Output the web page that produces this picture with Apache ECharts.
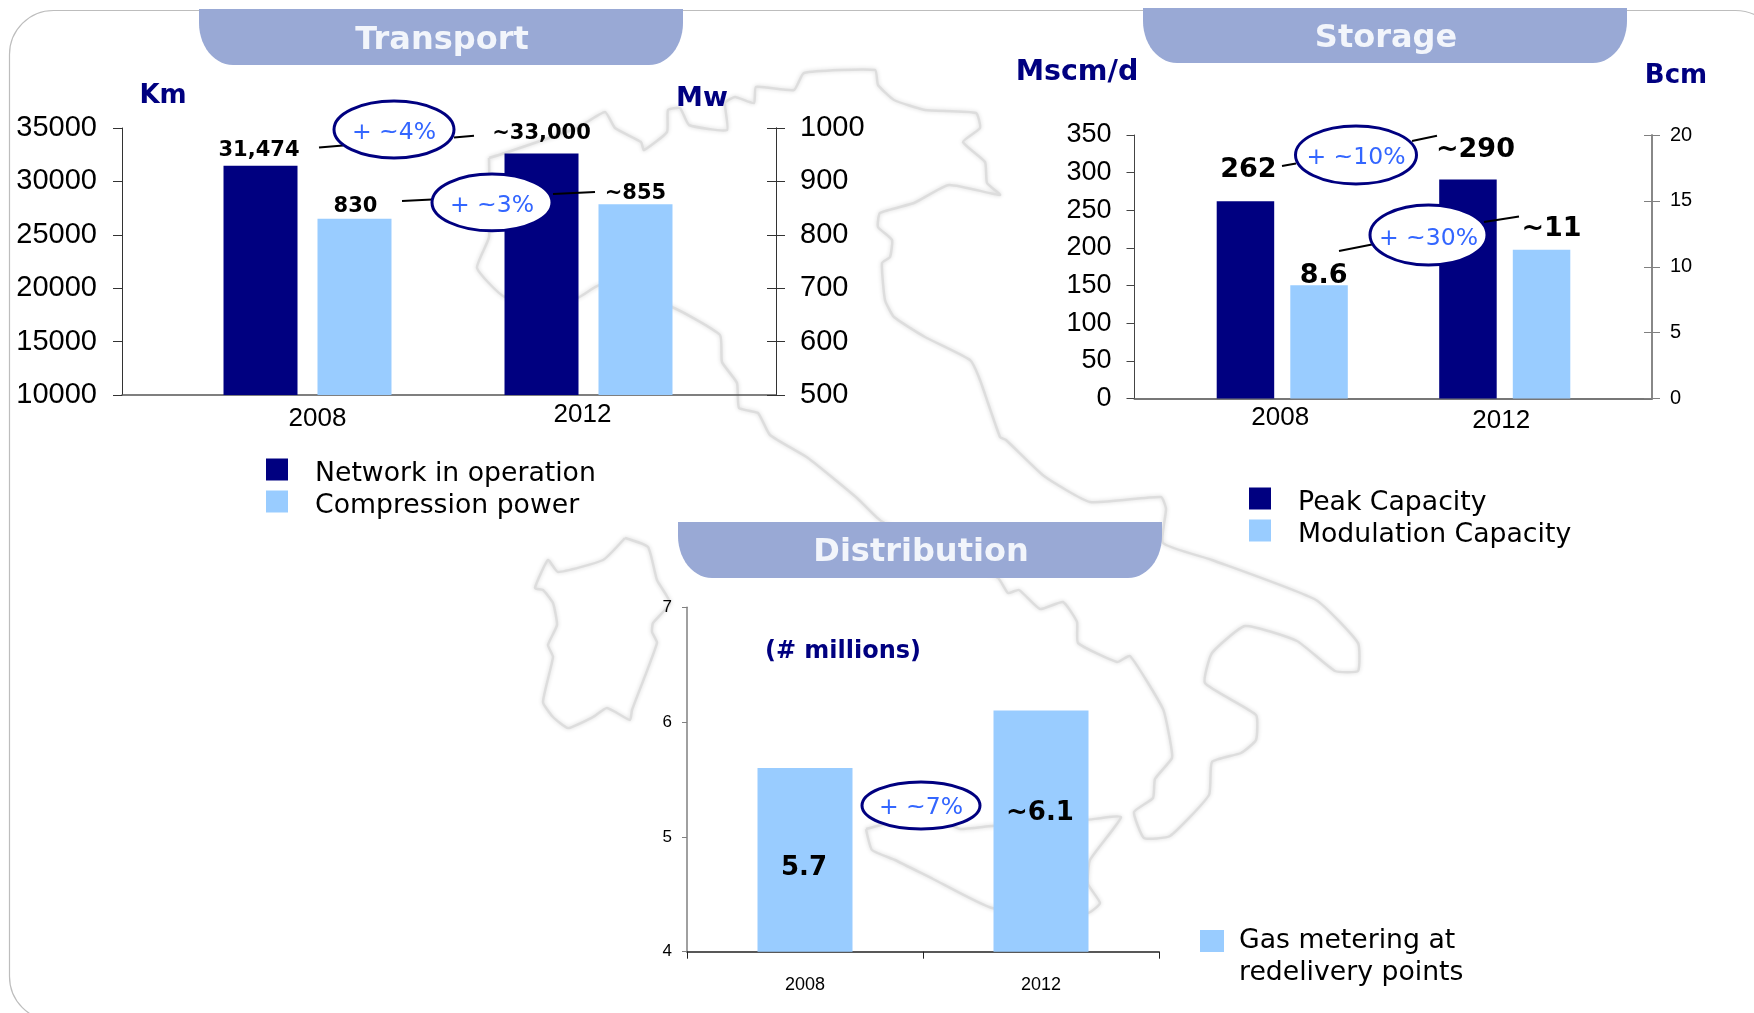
<!DOCTYPE html>
<html>
<head>
<meta charset="utf-8">
<title>Transport, Storage and Distribution</title>
<script src="https://cdn.jsdelivr.net/npm/echarts@6/dist/echarts.min.js"></script>
<style>html,body{margin:0;padding:0;background:#fff}#c{width:1754px;height:1013px}</style>
</head>
<body>
<div id="c"></div>
<script>
// ---- data ----
const years = ['2008', '2012'];
const networkKm = [31474, 32620];
const networkLabels = ['31,474', '~33,000'];
const compressionMw = [830, 857];
const compressionLabels = ['830', '~855'];
const peakCapacity = [262, 291];
const peakLabels = ['262', '~290'];
const modulationCapacity = [8.6, 11.3];
const modulationLabels = ['8.6', '~11'];
const gasMetering = [5.6, 6.1];
const gasLabels = ['5.7', '~6.1'];

// ---- styles ----
const NAVY = '#000080', LIGHT = '#99CCFF', PILL = '#99A9D5', BLUE = '#3366FF';
const SANS = '"Liberation Sans", Arial, sans-serif', VERD = '"DejaVu Sans", sans-serif';

function labelled(vals, texts, offsets, font) {
  return vals.map((v, i) => ({
    value: v,
    label: { show: true, formatter: texts[i], offset: offsets[i], position: font.pos || 'top', distance: 0,
             fontFamily: VERD, fontWeight: 'bold', fontSize: font.size, color: '#000' }
  }));
}
function valueAxis(grid, pos, min, max, step, o) {
  return {
    type: 'value', gridIndex: grid, position: pos, min: min, max: max, interval: step, splitLine: { show: false },
    axisLine: { show: true, onZero: false, lineStyle: { color: o.color, width: o.width } },
    axisTick: { show: o.tick > 0, length: o.tick, inside: !!o.inside, lineStyle: { color: o.color, width: 1 } },
    axisLabel: { show: !!o.size, margin: o.margin, fontFamily: SANS, fontSize: o.size, color: '#000', formatter: v => String(v) }
  };
}
function hiddenY(grid, pos, min, max) {
  return { type: 'value', gridIndex: grid, position: pos, min: min, max: max, show: false, splitLine: { show: false } };
}
function frameX(grid, color, width) {
  return { type: 'value', gridIndex: grid, min: 0, max: 1, splitLine: { show: false }, axisTick: { show: false }, axisLabel: { show: false },
           axisLine: { show: true, onZero: false, lineStyle: { color: color, width: width } } };
}
function yearAxis(grid, shift, margin) {
  const rich = {};
  years.forEach((y, i) => { rich['y' + y] = { fontFamily: SANS, fontSize: 26, color: '#000', padding: shift[i] }; });
  return { type: 'category', gridIndex: grid, data: years, axisLine: { show: false }, axisTick: { show: false }, splitLine: { show: false },
           axisLabel: { interval: 0, margin: margin, formatter: v => '{y' + v + '|' + v + '}', rich: rich } };
}

// ---- Italy outline behind everything ----
const mainland = [[489,158],[505,153],[577,128],[605,112],[615,128],[641,142],[644,150],[667,132],[668,110],[680,108],[689,125],[727,130],[725,103],[735,97],[754,103],[756,87],[794,90],[804,73],[875,70],[878,85],[894,100],[925,110],[976,113],[980,128],[963,142],[985,162],[987,183],[1000,195],[949,185],[914,203],[880,213],[878,227],[892,240],[890,257],[882,263],[885,300],[894,317],[925,337],[970,360],[980,380],[1000,437],[1006,440],[1044,476],[1090,502],[1161,497],[1166,509],[1163,543],[1212,560],[1316,600],[1358,643],[1358,671],[1335,671],[1297,641],[1245,626],[1212,653],[1205,683],[1256,715],[1256,740],[1241,753],[1212,762],[1209,795],[1170,836],[1144,838],[1134,812],[1153,798],[1155,779],[1172,758],[1170,740],[1163,709],[1130,656],[1117,662],[1078,643],[1077,622],[1063,602],[1040,609],[1019,590],[1008,593],[998,578],[881,521],[857,498],[808,458],[770,435],[758,413],[739,408],[737,383],[722,362],[720,335],[672,307],[600,285],[577,298],[505,297],[477,268],[489,237]];
const sardinia = [[625,538],[648,547],[657,580],[670,603],[653,623],[652,632],[657,643],[632,710],[630,720],[607,708],[593,717],[568,728],[553,717],[543,702],[553,657],[548,645],[557,625],[553,603],[543,590],[535,588],[548,560],[558,572],[603,560]];
const sicily = [[866,829],[872,850],[895,860],[933,879],[992,908],[1088,913],[1100,903],[1088,884],[1090,860],[1121,817],[1086,820],[992,826],[960,829],[948,824],[895,822]];

function outline(pts) {
  return { type: 'polyline', z: 0, silent: true, shape: { points: pts.concat([pts[0]]), smooth: 0.15 },
           style: { fill: 'none', stroke: '#dddddd', lineWidth: 2.5, lineJoin: 'round', shadowBlur: 4, shadowColor: '#d8d8d8' } };
}
function pill(x0, x1, y0, y1) {
  const rx = 34, ry = 42, pts = [[x0, y0], [x1, y0]];
  for (let i = 0; i <= 14; i++) { const a = i / 14 * Math.PI / 2; pts.push([x1 - rx + rx * Math.cos(a), y1 - ry + ry * Math.sin(a)]); }
  for (let i = 0; i <= 14; i++) { const a = i / 14 * Math.PI / 2; pts.push([x0 + rx - rx * Math.sin(a), y1 - ry + ry * Math.cos(a)]); }
  return { type: 'polygon', z: 5, silent: true, shape: { points: pts }, style: { fill: PILL } };
}
function text(str, x, y, size, color, weight, z) {
  return { type: 'text', z: z || 12, silent: true, x: x, y: y,
           style: { text: str, x: 0, y: 0, align: 'center', verticalAlign: 'middle', fontFamily: VERD, fontSize: size, fontWeight: weight || 'bold', fill: color } };
}
function oval(cx, cy, rx, ry, label, ty) {
  return [
    { type: 'ellipse', z: 10, silent: true, shape: { cx: cx, cy: cy, rx: rx, ry: ry }, style: { fill: '#fff', stroke: NAVY, lineWidth: 3 } },
    text(label, cx, ty, 23.5, BLUE, 'normal')
  ];
}
function tie(x1, y1, x2, y2) {
  return { type: 'line', z: 9, silent: true, shape: { x1: x1, y1: y1, x2: x2, y2: y2 }, style: { stroke: '#000', lineWidth: 2 } };
}

const graphics = [
  { type: 'rect', z: 0, silent: true, shape: { x: 9.5, y: 10.5, width: 1770, height: 1010, r: 44 }, style: { fill: 'none', stroke: '#bdbdbd', lineWidth: 1.2 } },
  outline(mainland), outline(sardinia), outline(sicily),
  pill(199, 683, 9, 65), pill(1143, 1627, 8, 63), pill(678, 1162, 522, 578),
  text('Transport', 442, 41, 32, '#F2F5FB'), text('Storage', 1386, 39, 32, '#F2F5FB'), text('Distribution', 921, 553, 32, '#F2F5FB'),
  text('Km', 163, 96, 26, NAVY), text('Mw', 702, 99, 27, NAVY), text('Mscm/d', 1077, 73, 28.5, NAVY), text('Bcm', 1676, 76, 26, NAVY),
  text('(# millions)', 843, 652, 24, NAVY),
  tie(319, 147.6, 343, 145.6), tie(454, 137.5, 474, 135.8), tie(402, 201, 432, 199.6), tie(553, 194, 595, 192),
  tie(1282, 166, 1296, 163.6), tie(1412, 141, 1437, 135.7), tie(1339, 251, 1372, 244.6), tie(1484, 222, 1519, 216.4)
].concat(
  oval(394, 129.5, 60, 28.5, '+ ~4%', 133), oval(492, 202.4, 60, 28.4, '+ ~3%', 206),
  oval(1356, 155, 60.5, 29, '+ ~10%', 158), oval(1428.5, 235, 58.5, 30, '+ ~30%', 239),
  oval(921, 805.5, 59, 23.5, '+ ~7%', 808)
);

const LEFT_T = { color: '#333', width: 1, tick: 9, size: 29, margin: 25 };
const RIGHT_T = { color: '#333', width: 1, tick: 9, size: 29, margin: 24 };
const LEFT_S = { color: '#444', width: 1, tick: 8, size: 27, margin: 23 };
const RIGHT_S = { color: '#808080', width: 1.5, tick: 8, size: 20, margin: 18 };

const legendRich = { a: { fontFamily: VERD, fontSize: 26.7, lineHeight: 22, color: '#000', padding: [10, 0, 0, 22] } };
const option = {
  animation: false,
  backgroundColor: '#fff',
  graphic: { elements: graphics },
  legend: [
    { data: ['Network in operation', 'Compression power'], left: 266, top: 451, itemWidth: 22, itemHeight: 22, itemGap: -5, formatter: n => '{a|' + n + '}', textStyle: { rich: legendRich } },
    { data: ['Peak Capacity', 'Modulation Capacity'], left: 1249, top: 480, itemWidth: 22, itemHeight: 22, itemGap: -5, formatter: n => '{a|' + n + '}', textStyle: { rich: legendRich } },
    { data: ['Gas metering at\nredelivery points'], left: 1200, top: 893, itemWidth: 24, itemHeight: 22, itemGap: 0, formatter: n => '\n' + n,
      textStyle: { fontFamily: VERD, fontSize: 26.7, lineHeight: 32, color: '#000', padding: [0, 0, 0, 10] } }
  ].map(l => Object.assign({ orient: 'vertical', icon: 'rect', selectedMode: false, padding: 0 }, l)),
  grid: [
    { left: 122, top: 128, width: 654, height: 267 },
    { left: 167, top: 128, width: 562, height: 267 },
    { left: 1134.5, top: 135, width: 517.5, height: 263.6 },
    { left: 1171, top: 135, width: 445, height: 263.6 },
    { left: 687, top: 607.3, width: 472, height: 344.4 }
  ],
  xAxis: [
    frameX(0, '#555', 1.5),
    yearAxis(1, [[4, 0, 0, 20], [0, 12, 0, 0]], 7),
    frameX(2, '#777', 2),
    yearAxis(3, [[0, 4, 0, 0], [3, 7, 0, 0]], 6),
    { type: 'category', gridIndex: 4, data: years, splitLine: { show: false },
      axisLine: { show: true, lineStyle: { color: '#222', width: 1.5 } },
      axisTick: { show: true, length: 7, alignWithLabel: false, lineStyle: { color: '#222', width: 1 } },
      axisLabel: { interval: 0, margin: 24, fontFamily: SANS, fontSize: 18, color: '#000' } }
  ],
  yAxis: [
    valueAxis(0, 'left', 10000, 35000, 5000, LEFT_T),
    valueAxis(0, 'right', 500, 1000, 100, RIGHT_T),
    valueAxis(0, 'right', 500, 1000, 100, { color: '#333', width: 1, tick: 9, inside: true }),
    hiddenY(1, 'left', 10000, 35000),
    hiddenY(1, 'right', 500, 1000),
    valueAxis(2, 'left', 0, 350, 50, LEFT_S),
    valueAxis(2, 'right', 0, 20, 5, RIGHT_S),
    valueAxis(2, 'right', 0, 20, 5, { color: '#808080', width: 1.5, tick: 8, inside: true }),
    hiddenY(3, 'left', 0, 350),
    hiddenY(3, 'right', 0, 20),
    valueAxis(4, 'left', 4, 7, 1, { color: '#808080', width: 1.5, tick: 5, size: 17, margin: 15 })
  ],
  series: [
    { name: 'Network in operation', type: 'bar', xAxisIndex: 1, yAxisIndex: 3, barWidth: 74, barGap: '27%', itemStyle: { color: NAVY },
      data: labelled(networkKm, networkLabels, [[-1.5, -5], [0, -9]], { size: 21 }) },
    { name: 'Compression power', type: 'bar', xAxisIndex: 1, yAxisIndex: 4, barWidth: 74, barGap: '27%', itemStyle: { color: LIGHT },
      data: labelled(compressionMw, compressionLabels, [[1, -2], [0, 0]], { size: 21 }) },
    { name: 'Peak Capacity', type: 'bar', xAxisIndex: 3, yAxisIndex: 8, barWidth: 57.5, barGap: '28%', itemStyle: { color: NAVY },
      data: labelled(peakCapacity, peakLabels, [[3, -18], [7.5, -16]], { size: 27 }) },
    { name: 'Modulation Capacity', type: 'bar', xAxisIndex: 3, yAxisIndex: 9, barWidth: 57.5, barGap: '28%', itemStyle: { color: LIGHT },
      data: labelled(modulationCapacity, modulationLabels, [[4.5, 4], [10, -7]], { size: 27 }) },
    { name: 'Gas metering at\nredelivery points', type: 'bar', xAxisIndex: 4, yAxisIndex: 10, barWidth: 95, itemStyle: { color: LIGHT },
      data: labelled(gasMetering, gasLabels, [[-1, 8], [-1, -18]], { size: 26, pos: 'inside' }) }
  ]
};
echarts.init(document.getElementById('c'), null, { renderer: 'canvas' }).setOption(option);
</script>
</body>
</html>
